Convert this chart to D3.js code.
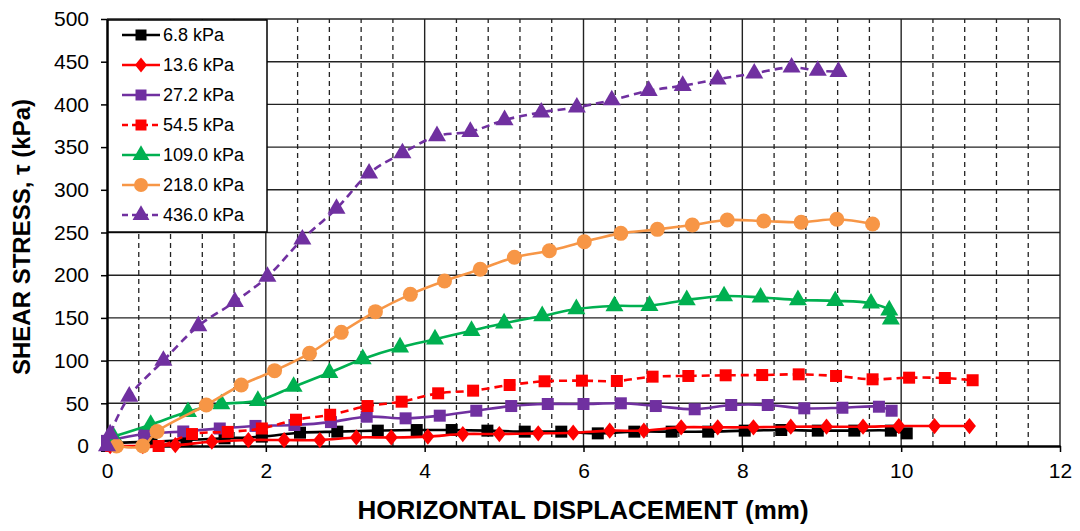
<!DOCTYPE html>
<html><head><meta charset="utf-8">
<script src="https://cdn.jsdelivr.net/npm/d3@7"></script>
<style>body{margin:0;background:#fff;} svg{display:block;font-family:Arial,"Liberation Sans",sans-serif;}</style>
</head><body><svg id="c" width="1080" height="531"></svg>
<script>
const xTicks = [0, 2, 4, 6, 8, 10, 12];
const yTicks = [0, 50, 100, 150, 200, 250, 300, 350, 400, 450, 500];
const seriesNames = ["6.8 kPa", "13.6 kPa", "27.2 kPa", "54.5 kPa", "109.0 kPa", "218.0 kPa", "436.0 kPa"];

const x6_8 = [0, 0.1, 0.56, 1.0, 1.48, 1.95, 2.43, 2.9, 3.41, 3.9, 4.34, 4.79, 5.26, 5.72, 6.18, 6.64, 7.11, 7.57, 8.03, 8.49, 8.95, 9.41, 9.87, 10.07];
const y6_8 = [0, 3, 5, 7, 9, 11, 15.6, 16.8, 18, 18.7, 18.7, 18, 16.8, 16.8, 14.8, 16.8, 16.8, 16.8, 18, 18.7, 18, 18, 18, 14.8];

const x13_6 = [0.04, 0.45, 0.86, 1.32, 1.78, 2.23, 2.68, 3.14, 3.58, 4.04, 4.48, 4.94, 5.43, 5.87, 6.33, 6.76, 7.23, 7.69, 8.14, 8.61, 9.06, 9.52, 9.97, 10.42, 10.86];
const y13_6 = [0, 0, 1, 5, 7, 7, 7, 10, 10, 11, 14, 14, 14.8, 15.6, 18, 18, 21.9, 21.9, 21.9, 22.6, 22.6, 22.6, 23.4, 23.4, 23.4];

const x27_2 = [0, 0.47, 0.96, 1.42, 1.87, 2.36, 2.82, 3.27, 3.76, 4.19, 4.65, 5.09, 5.55, 6.0, 6.47, 6.91, 7.4, 7.86, 8.32, 8.78, 9.26, 9.72, 9.88];
const y27_2 = [6, 14, 17, 20.5, 23.5, 24.6, 28, 34.3, 32.4, 35.5, 41.3, 46.8, 49.2, 49.2, 50, 46.8, 43, 48, 48, 44.1, 44.8, 46, 41.3];

const x54_5 = [0.05, 0.65, 1.07, 1.52, 1.95, 2.38, 2.81, 3.28, 3.71, 4.17, 4.61, 5.07, 5.51, 5.98, 6.42, 6.87, 7.32, 7.79, 8.25, 8.71, 9.18, 9.64, 10.1, 10.55, 10.9];
const y54_5 = [0, 0, 14, 16.5, 20.5, 30.8, 36.6, 46.8, 51.9, 61.7, 64.8, 71.4, 75.8, 76.5, 76.1, 81.2, 82, 82.8, 83.1, 83.9, 82, 78.1, 80, 79.6, 77];

const x109 = [0.08, 0.55, 1.02, 1.44, 1.9, 2.35, 2.8, 3.22, 3.69, 4.13, 4.59, 5.0, 5.48, 5.91, 6.39, 6.83, 7.3, 7.77, 8.23, 8.7, 9.17, 9.62, 9.85, 9.87];
const y109 = [11, 25, 40, 49, 53, 69.5, 85.8, 101.9, 115.6, 125, 135, 143.7, 152.2, 160.4, 164, 164.3, 171, 175.6, 174, 171, 170, 167, 159, 148.4];

const x218 = [0.12, 0.45, 0.63, 1.25, 1.69, 2.11, 2.55, 2.95, 3.38, 3.82, 4.25, 4.70, 5.13, 5.57, 6.01, 6.47, 6.93, 7.37, 7.81, 8.27, 8.74, 9.19, 9.64];
const y218 = [0, 0, 17, 48, 71.4, 88.2, 108.5, 133.1, 157.3, 177.6, 193.2, 206.9, 221, 228.7, 239.2, 249, 253.7, 258.8, 264.6, 263.5, 262, 265.5, 260];

const x436 = [0, 0.04, 0.28, 0.71, 1.15, 1.61, 2.02, 2.46, 2.89, 3.3, 3.72, 4.155, 4.575, 5.006, 5.468, 5.916, 6.356, 6.821, 7.249, 7.689, 8.15, 8.62, 8.95, 9.21];
const y436 = [0, 14, 58, 100, 140.5, 169, 198.3, 242, 278, 319.3, 343, 363, 368, 381.7, 390.7, 396.6, 405, 416, 421.9, 429.4, 436.4, 443.4, 439.5, 438.3];

const seriesX = [x6_8, x13_6, x27_2, x54_5, x109, x218, x436];
const seriesY = [y6_8, y13_6, y27_2, y54_5, y109, y218, y436];
const colors = ["#000000", "#ff0000", "#7030a0", "#ff0000", "#00b050", "#f79646", "#7030a0"];
const markers = ["square", "diamond", "square", "square", "triangle", "circle", "triangle"];
const dashed = [false, false, false, true, false, false, true];

const W = 1080, H = 531;
const m = {left: 107, right: 20, top: 19, bottom: 85};
const svg = d3.select("#c");
const x = d3.scaleLinear().domain([0, 12]).range([m.left, W - m.right]);
const y = d3.scaleLinear().domain([0, 500]).range([H - m.bottom, m.top]);

// minor dashed vertical grid
const minor = d3.range(0, 12.0001, 0.4).filter(v => Math.abs(v / 2 - Math.round(v / 2)) > 1e-6);
svg.append("g").selectAll("line").data(minor).join("line")
  .attr("x1", d => x(d)).attr("x2", d => x(d)).attr("y1", y(0)).attr("y2", y(500))
  .attr("stroke", "#222").attr("stroke-width", 1.3).attr("stroke-dasharray", "5,4");
// major grid
svg.append("g").selectAll("line").data(yTicks.filter(d => d > 0)).join("line")
  .attr("x1", x(0)).attr("x2", x(12)).attr("y1", d => y(d)).attr("y2", d => y(d))
  .attr("stroke", "#222").attr("stroke-width", 1.4);
svg.append("g").selectAll("line").data(xTicks.filter(d => d > 0)).join("line")
  .attr("x1", d => x(d)).attr("x2", d => x(d)).attr("y1", y(0)).attr("y2", y(500))
  .attr("stroke", "#222").attr("stroke-width", 1.4);

// axes
const xAxis = svg.append("g").attr("transform", `translate(0,${y(0)})`)
  .call(d3.axisBottom(x).tickValues(xTicks).tickSize(6).tickPadding(11).tickSizeOuter(0));
const yAxis = svg.append("g").attr("transform", `translate(${x(0)},0)`)
  .call(d3.axisLeft(y).tickValues(yTicks).tickSize(6).tickPadding(12).tickSizeOuter(0));
[xAxis, yAxis].forEach(a => {
  a.select(".domain").attr("stroke", "#000").attr("stroke-width", 2.5);
  a.selectAll(".tick line").attr("stroke", "#000").attr("stroke-width", 1.5);
  a.selectAll("text").attr("font-size", 21).attr("fill", "#000").attr("font-family", "Arial, 'Liberation Sans', sans-serif");
});

function markerPath(type, size) {
  const s = size;
  if (type === "square") return d3.symbol(d3.symbolSquare, s * s)();
  if (type === "diamond") return `M0,${-s/1.6}L${s/2},0L0,${s/1.6}L${-s/2},0Z`;
  if (type === "triangle") return d3.symbol(d3.symbolTriangle, s * s * 0.55)();
  return d3.symbol(d3.symbolCircle, Math.PI * (s/2) * (s/2))();
}
const msize = {square: 12, diamond: 13, triangle: 16, circle: 15};

const line = d3.line().x(d => x(d[0])).y(d => y(d[1])).curve(d3.curveCatmullRom.alpha(0.5));
const plot = svg.append("g");
seriesX.forEach((xs, i) => {
  const pts = xs.map((v, j) => [v, seriesY[i][j]]);
  const g = plot.append("g");
  g.append("path").attr("d", line(pts)).attr("fill", "none").attr("stroke", colors[i])
    .attr("stroke-width", 2.6).attr("stroke-dasharray", dashed[i] ? "8,5" : null);
  g.selectAll("path.mk").data(pts).join("path").attr("class", "mk")
    .attr("transform", d => `translate(${x(d[0])},${y(d[1])})`)
    .attr("d", markerPath(markers[i], msize[markers[i]])).attr("fill", colors[i]);
});

// legend
const lg = svg.append("g");
lg.append("rect").attr("x", 108).attr("y", 20).attr("width", 159).attr("height", 212)
  .attr("fill", "#fff").attr("stroke", "#000").attr("stroke-width", 1.5);
seriesNames.forEach((name, i) => {
  const cy = 35 + i * 30;
  lg.append("line").attr("x1", 122).attr("x2", 160).attr("y1", cy).attr("y2", cy)
    .attr("stroke", colors[i]).attr("stroke-width", 2.6).attr("stroke-dasharray", dashed[i] ? "6,4" : null);
  lg.append("path").attr("transform", `translate(141,${cy})`).attr("d", markerPath(markers[i], msize[markers[i]] - 1)).attr("fill", colors[i]);
  lg.append("text").attr("x", 163).attr("y", cy).attr("dy", "0.35em").attr("font-size", 18).attr("fill", "#000").text(name);
});

// titles
svg.append("text").attr("x", 583).attr("y", 519).attr("text-anchor", "middle")
  .attr("font-size", 26).attr("font-weight", "bold").attr("fill", "#000").text("HORIZONTAL DISPLACEMENT (mm)");
svg.append("text").attr("transform", `translate(30,237) rotate(-90)`).attr("text-anchor", "middle")
  .attr("font-size", 24).attr("font-weight", "bold").attr("fill", "#000").text("SHEAR STRESS, τ (kPa)");
</script></body></html>
